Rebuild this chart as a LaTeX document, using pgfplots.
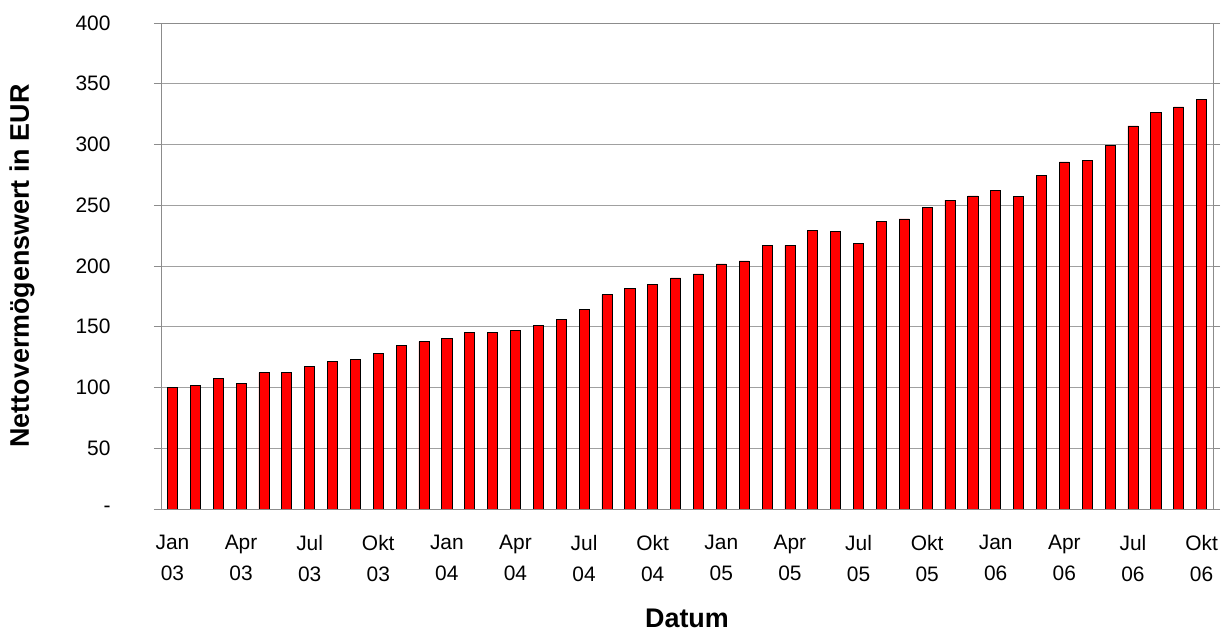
\documentclass[border=0pt]{standalone}
\usepackage{fontspec}
\setmainfont{Liberation Sans}
\usepackage{pgfplots}
\pgfplotsset{compat=1.18}
\definecolor{gridgray}{RGB}{160,160,160}
\definecolor{axgray}{RGB}{140,140,140}
\begin{document}
\begin{tikzpicture}
\path[use as bounding box] (0,0) rectangle (1230bp,634bp);
\begin{axis}[
  at={(161bp,125bp)}, anchor=south west,
  width=1052bp, height=486bp, scale only axis,
  xmin=-0.5, xmax=45.5, ymin=0, ymax=400,
  ytick={0,50,...,400},
  yticklabels={-,50,100,150,200,250,300,350,400},
  xtick={0,3,...,45},
  xticklabels={Jan\\03,Apr\\03,Jul\\03,Okt\\03,Jan\\04,Apr\\04,Jul\\04,Okt\\04,Jan\\05,Apr\\05,Jul\\05,Okt\\05,Jan\\06,Apr\\06,Jul\\06,Okt\\06},
  x tick label style={align=center, font=\fontsize{21}{31}\selectfont, yshift=-16bp},
  y tick label style={font=\fontsize{21}{25}\selectfont, xshift=-40bp},
  xtick style={draw=none},
  ytick style={draw=axgray, line width=0.8bp},
  tick align=outside,
  major tick length=7bp,
  extra x ticks={-0.5,2.5,...,44.5},
  extra x tick labels={},
  extra x tick style={tick style={draw=axgray, line width=0.8bp}, major tick length=7bp, grid=none},
  ymajorgrids,
  grid style={gridgray, line width=0.8bp},
  axis line style={axgray, line width=0.8bp},
  ylabel={Nettovermögenswert in EUR},
  xlabel={Datum},
  label style={font=\fontsize{27}{30}\selectfont\bfseries},
  ylabel style={at={(axis description cs:-0.1321,0.5)}, anchor=center},
  xlabel style={at={(axis description cs:0.5,-0.243)}, anchor=base},
  ybar, bar width=0.44,
]
\addplot[fill=red, draw=black, line width=0.7bp] coordinates {
(0,100) (1,101.5) (2,107.8) (3,103.2) (4,112.2) (5,112.2) (6,117.1) (7,121.8)
(8,123.4) (9,127.8) (10,134.4) (11,137.7) (12,140.6) (13,145.1) (14,145.1) (15,146.7)
(16,151.3) (17,155.7) (18,164.0) (19,176.3) (20,181.2) (21,184.5) (22,190.2) (23,193.5)
(24,201.7) (25,204.2) (26,217.0) (27,217.0) (28,229.6) (29,228.2) (30,218.6) (31,237.0)
(32,238.7) (33,248.2) (34,254.3) (35,257.7) (36,262.5) (37,257.6) (38,274.8) (39,285.7)
(40,287.1) (41,299.4) (42,315.3) (43,326.2) (44,330.9) (45,337.2)
};
\end{axis}
\end{tikzpicture}
\end{document}
